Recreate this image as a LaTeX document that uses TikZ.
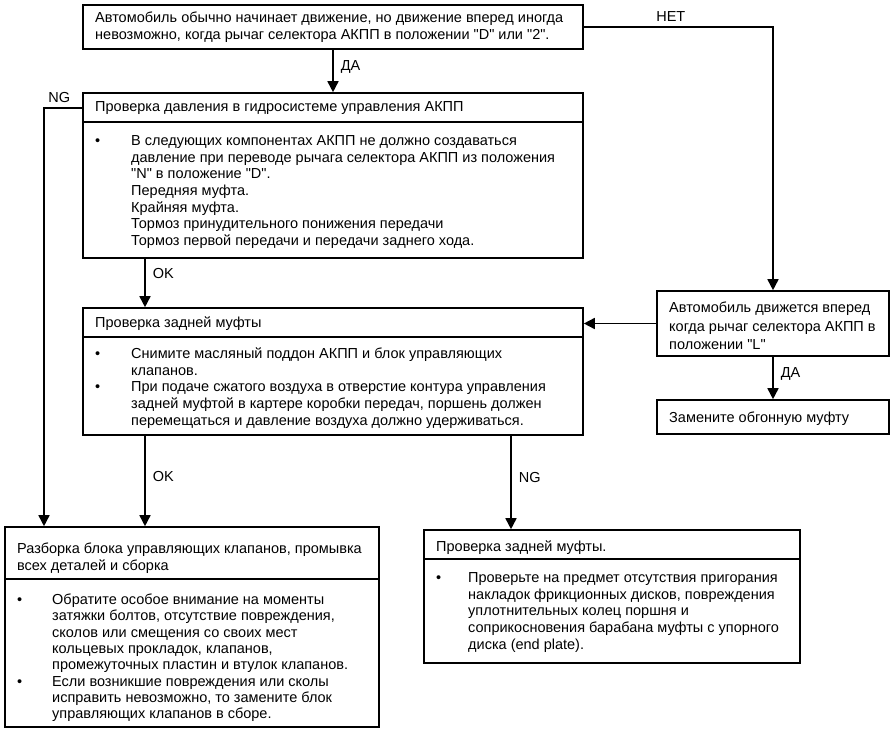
\documentclass[tikz,border=0pt]{standalone}
\usepackage{fontspec}
\setmainfont{Liberation Sans}[Ligatures=TeXOff]
\usetikzlibrary{arrows.meta,calc}
\begin{document}
\begin{tikzpicture}[x=1pt,y=-1pt,
  box/.style={draw, line width=1.6pt, rectangle, inner sep=0pt},
  txt/.style={anchor=north west, inner sep=0pt, font=\fontsize{14.5}{16.7}\selectfont},
  lbl/.style={inner sep=0pt, font=\fontsize{14.5}{16.7}\selectfont},
  conn/.style={line width=1.6pt},
  arr/.style={conn, -{Triangle[length=11pt,width=11pt]}},
  divline/.style={line width=1.6pt}]
\useasboundingbox (0,0) rectangle (895,731);
% boxes
\node[box, minimum width=500pt, minimum height=44pt] (b1) at (333,27) {};
\node[box, minimum width=500pt, minimum height=165pt] (b2) at (333,175.5) {};
\node[box, minimum width=500pt, minimum height=127pt] (b3) at (333,371.5) {};
\node[box, minimum width=232pt, minimum height=65pt] (b4) at (773,323.5) {};
\node[box, minimum width=232pt, minimum height=34pt] (b5) at (773,417) {};
\node[box, minimum width=374pt, minimum height=200pt] (b6) at (192,627) {};
\node[box, minimum width=376pt, minimum height=133pt] (b7) at (612,596.5) {};
% dividers
\draw[divline] ([yshift=-30pt]b2.north west) -- ([yshift=-30pt]b2.north east);
\draw[divline] ([yshift=-30pt]b3.north west) -- ([yshift=-30pt]b3.north east);
\draw[divline] ([yshift=-53pt]b6.north west) -- ([yshift=-53pt]b6.north east);
\draw[divline] ([yshift=-30pt]b7.north west) -- ([yshift=-30pt]b7.north east);
% texts
\node[txt] (t1) at (95,10.6) {\begin{tabular}{@{}l@{}}
Автомобиль обычно начинает движение, но движение вперед иногда\\
невозможно, когда рычаг селектора АКПП в положении "D" или "2".
\end{tabular}};
\node[txt] (h2) at (95,99.5) {\begin{tabular}{@{}l@{}}
Проверка давления в гидросистеме управления АКПП
\end{tabular}};
\node[txt] (t2) at (95,133.5) {\begin{tabular}{@{}p{36pt}@{}l@{}}
\textbullet & В следующих компонентах АКПП не должно создаваться\\
 & давление при переводе рычага селектора АКПП из положения\\
 & "N" в положение "D".\\
 & Передняя муфта.\\
 & Крайняя муфта.\\
 & Тормоз принудительного понижения передачи\\
 & Тормоз первой передачи и передачи заднего хода.
\end{tabular}};
\node[txt] (h3) at (95,315.5) {\begin{tabular}{@{}l@{}}
Проверка задней муфты
\end{tabular}};
\node[txt] (t3) at (95,346.5) {\begin{tabular}{@{}p{36pt}@{}l@{}}
\textbullet & Снимите масляный поддон АКПП и блок управляющих\\
 & клапанов.\\
\textbullet & При подаче сжатого воздуха в отверстие контура управления\\
 & задней муфтой в картере коробки передач, поршень должен\\
 & перемещаться и давление воздуха должно удерживаться.
\end{tabular}};
\node[txt, font=\fontsize{14.5}{18.5}\selectfont] (t4) at (669,299.5) {\begin{tabular}{@{}l@{}}
Автомобиль движется вперед\\
когда рычаг селектора АКПП в\\
положении "L"
\end{tabular}};
\node[txt] (t5) at (669,410.5) {\begin{tabular}{@{}l@{}}
Замените обгонную муфту
\end{tabular}};
\node[txt] (h6) at (17,541.5) {\begin{tabular}{@{}l@{}}
Разборка блока управляющих клапанов, промывка\\
всех деталей и сборка
\end{tabular}};
\node[txt, font=\fontsize{14.5}{16.3}\selectfont] (t6) at (17,593) {\begin{tabular}{@{}p{35pt}@{}l@{}}
\textbullet & Обратите особое внимание на моменты\\
 & затяжки болтов, отсутствие повреждения,\\
 & сколов или смещения со своих мест\\
 & кольцевых прокладок, клапанов,\\
 & промежуточных пластин и втулок клапанов.\\
\textbullet & Если возникшие повреждения или сколы\\
 & исправить невозможно, то замените блок\\
 & управляющих клапанов в сборе.
\end{tabular}};
\node[txt] (h7) at (436,539.5) {\begin{tabular}{@{}l@{}}
Проверка задней муфты.
\end{tabular}};
\node[txt] (t7) at (436,570.5) {\begin{tabular}{@{}p{32pt}@{}l@{}}
\textbullet & Проверьте на предмет отсутствия пригорания\\
 & накладок фрикционных дисков, повреждения\\
 & уплотнительных колец поршня и\\
 & соприкосновения барабана муфты с упорного\\
 & диска (end plate).
\end{tabular}};
% connectors
\coordinate (xOK) at (145,0);
\coordinate (xNG) at (511,0);
\coordinate (xL) at (44,0);
\draw[arr] (b1.south) -- node[lbl, right=7pt, pos=0.4] {ДА} (b2.north);
\draw[arr] (b1.east) -| node[lbl, above=5pt, pos=0.23] {НЕТ} (b4.north);
\draw[arr] (h2.west -| b2.west) -| node[lbl, above=5pt, pos=0.3] {NG} (b6.north -| xL);
\draw[arr] (b2.south -| xOK) -- node[lbl, right=7pt, pos=0.3] {OK} (b3.north -| xOK);
\draw[arr] (b4.west) -- (b4.west -| b3.east);
\draw[arr] (b4.south) -- node[lbl, right=7pt, pos=0.4] {ДА} (b5.north);
\draw[arr] (b3.south -| xOK) -- node[lbl, right=7pt, pos=0.45] {OK} (b6.north -| xOK);
\draw[arr] (b3.south -| xNG) -- node[lbl, right=7pt, pos=0.45] {NG} (b7.north -| xNG);
\end{tikzpicture}
\end{document}
